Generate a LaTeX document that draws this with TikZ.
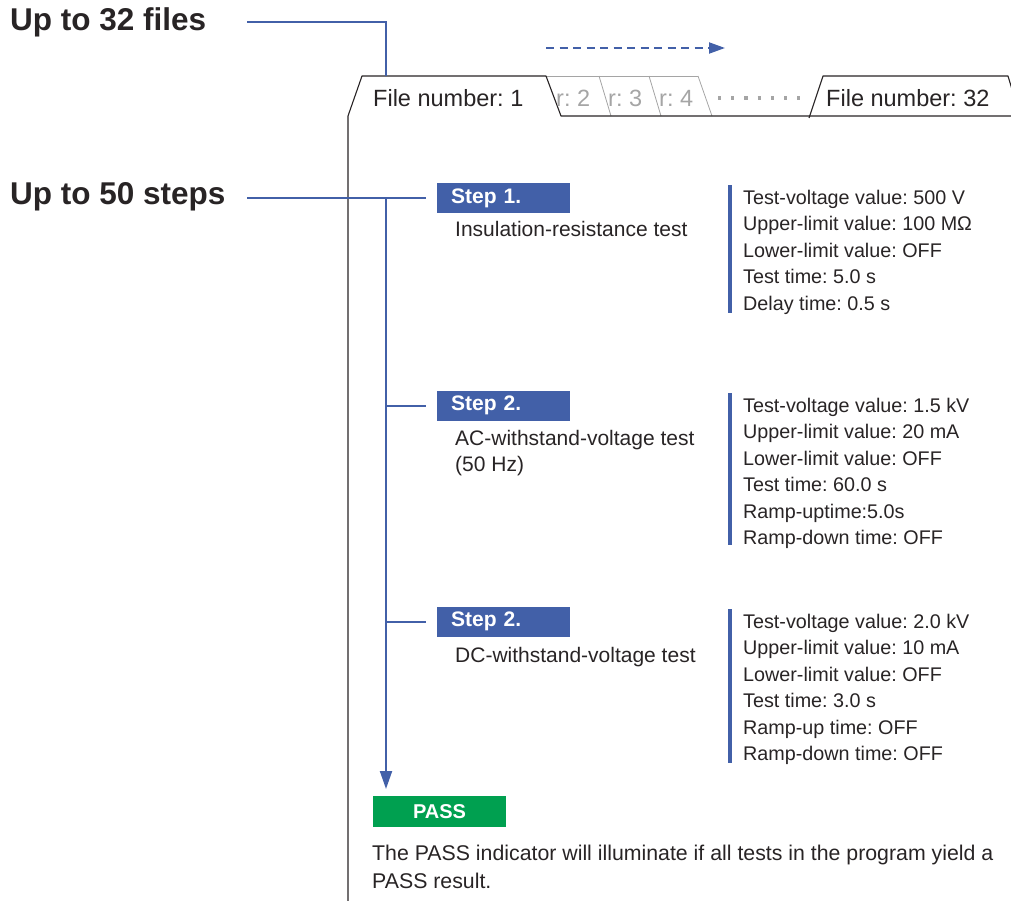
\documentclass[tikz,border=0pt]{standalone}
\usepackage{fontspec}
\setmainfont{Liberation Sans}
\usetikzlibrary{arrows.meta,positioning}
\frenchspacing

\definecolor{stepblue}{RGB}{66,96,168}
\definecolor{passgreen}{RGB}{0,160,80}
\definecolor{inkgrey}{RGB}{40,36,37}
\definecolor{tabgrey}{RGB}{165,165,165}

\tikzset{
	heading/.style={font=\fontsize{31.5}{36}\selectfont\bfseries,text=inkgrey,anchor=west,inner sep=0pt},
	tablabel/.style={font=\fontsize{23.5}{28}\selectfont,text=inkgrey,anchor=west,inner sep=0pt},
	ghostlabel/.style={tablabel,text=tabgrey},
	stepbox/.style={fill=stepblue,text=white,font=\fontsize{21}{25}\selectfont\bfseries,anchor=west,
		minimum height=30pt,inner ysep=0pt,inner xsep=14pt,text width=105pt,align=left},
	passbox/.style={fill=passgreen,text=white,font=\fontsize{20}{24}\selectfont\bfseries,
		minimum width=133pt,minimum height=31pt,inner sep=0pt},
	desc/.style={font=\fontsize{21}{26}\selectfont,text=inkgrey,anchor=north west,align=left,inner sep=0pt},
	params/.style={font=\fontsize{19.75}{26.5}\selectfont,text=inkgrey,anchor=north west,align=left,inner sep=0pt},
	link/.style={draw=stepblue,line width=2pt},
	bar/.style={draw=stepblue,line width=4pt},
	tabline/.style={draw=inkgrey,line width=1.1pt,line join=round},
	ghostline/.style={draw=tabgrey,line width=0.8pt},
}

\begin{document}
\begin{tikzpicture}[x=1pt,y=-1pt]
	\useasboundingbox (0,0) rectangle (1011,901);

	% Headings on the left
	\node[heading] (upfiles) at (10,22) {Up to 32 files};
	\node[heading] (upsteps) at (10,197) {Up to 50 steps};

	% File tabs
	\draw[ghostline] (546,76) -- (698,76);
	\draw[ghostline] (599,76) -- (611,116);
	\draw[ghostline] (649,76) -- (661,116);
	\draw[ghostline] (698,76) -- (712,116);
	\draw[tabline] (348,901) -- (348,116) -- (362,76) -- (546,76) -- (561,116) -- (1011,116);
	\draw[tabline] (809,118) -- (823,76) -- (1008,76) -- (1014,96);
	\draw[tabgrey,line width=3.2pt,dash pattern=on 3.2pt off 10pt] (718,98) -- (805,98);

	\node[tablabel] (file1) at (373,98) {File number: 1};
	\node[ghostlabel] (file2) at (556,98) {r: 2};
	\node[ghostlabel] (file3) at (608,98) {r: 3};
	\node[ghostlabel] (file4) at (659,98) {r: 4};
	\node[tablabel] (file32) at (826,98) {File number: 32};

	% Files connector and scroll arrow
	\coordinate (filesL) at (247,22);
	\coordinate (filesT) at (386,76);
	\draw[link] (filesL) -| (filesT);
	\coordinate (scrollL) at (546,48);
	\coordinate (scrollR) at (725,48);
	\draw[link,dash pattern=on 8pt off 5.5pt,-{Triangle[length=16pt,width=11pt]}] (scrollL) -- (scrollR);

	% Steps
	\node[stepbox] (step1) at (437,198) {Step 1.};
	\node[stepbox] (step2) at (437,405.5) {Step 2.};
	\node[stepbox] (step3) at (437,621.5) {Step 2.};

	\node[desc] (desc1) at ([xshift=18pt,yshift=-8pt]step1.south west) {Insulation-resistance test};
	\node[desc] (desc2) at ([xshift=18pt,yshift=-9pt]step2.south west) {AC-withstand-voltage test\\(50 Hz)};
	\node[desc] (desc3) at ([xshift=18pt,yshift=-10pt]step3.south west) {DC-withstand-voltage test};

	% Settings of each step
	\node[params] (par1) at (743,189.7) {Test-voltage value: 500 V\\Upper-limit value: 100 M\symbol{"03A9}\\Lower-limit value: OFF\\Test time: 5.0 s\\Delay time: 0.5 s};
	\node[params] (par2) at (743,397.7) {Test-voltage value: 1.5 kV\\Upper-limit value: 20 mA\\Lower-limit value: OFF\\Test time: 60.0 s\\Ramp-uptime:5.0s\\Ramp-down time: OFF};
	\node[params] (par3) at (743,613.7) {Test-voltage value: 2.0 kV\\Upper-limit value: 10 mA\\Lower-limit value: OFF\\Test time: 3.0 s\\Ramp-up time: OFF\\Ramp-down time: OFF};

	\draw[bar] ([shift={(-13pt,4.5pt)}]par1.north west) -- ([shift={(-13pt,2pt)}]par1.south west);
	\draw[bar] ([shift={(-13pt,4.5pt)}]par2.north west) -- ([shift={(-13pt,4pt)}]par2.south west);
	\draw[bar] ([shift={(-13pt,4.5pt)}]par3.north west) -- ([shift={(-13pt,2pt)}]par3.south west);

	% Result
	\node[passbox] (pass) at (439.5,811.5) {PASS};
	\node[desc,font=\fontsize{21.3}{28}\selectfont] (note) at (372,845) {The PASS indicator will illuminate if all tests in the program yield a\\PASS result.};

	% Step connectors
	\coordinate (stepsL) at (247,198);
	\coordinate (trunk) at (386,198);
	\coordinate (trunkend) at (386,789);
	\draw[link] (stepsL) -- ([xshift=-11pt]step1.west);
	\draw[link] (trunk |- step2.west) -- ([xshift=-11pt]step2.west);
	\draw[link] (trunk |- step3.west) -- ([xshift=-11pt]step3.west);
	\draw[link,-{Triangle[length=18pt,width=12pt]}] (trunk) -- (trunkend);
\end{tikzpicture}
\end{document}
